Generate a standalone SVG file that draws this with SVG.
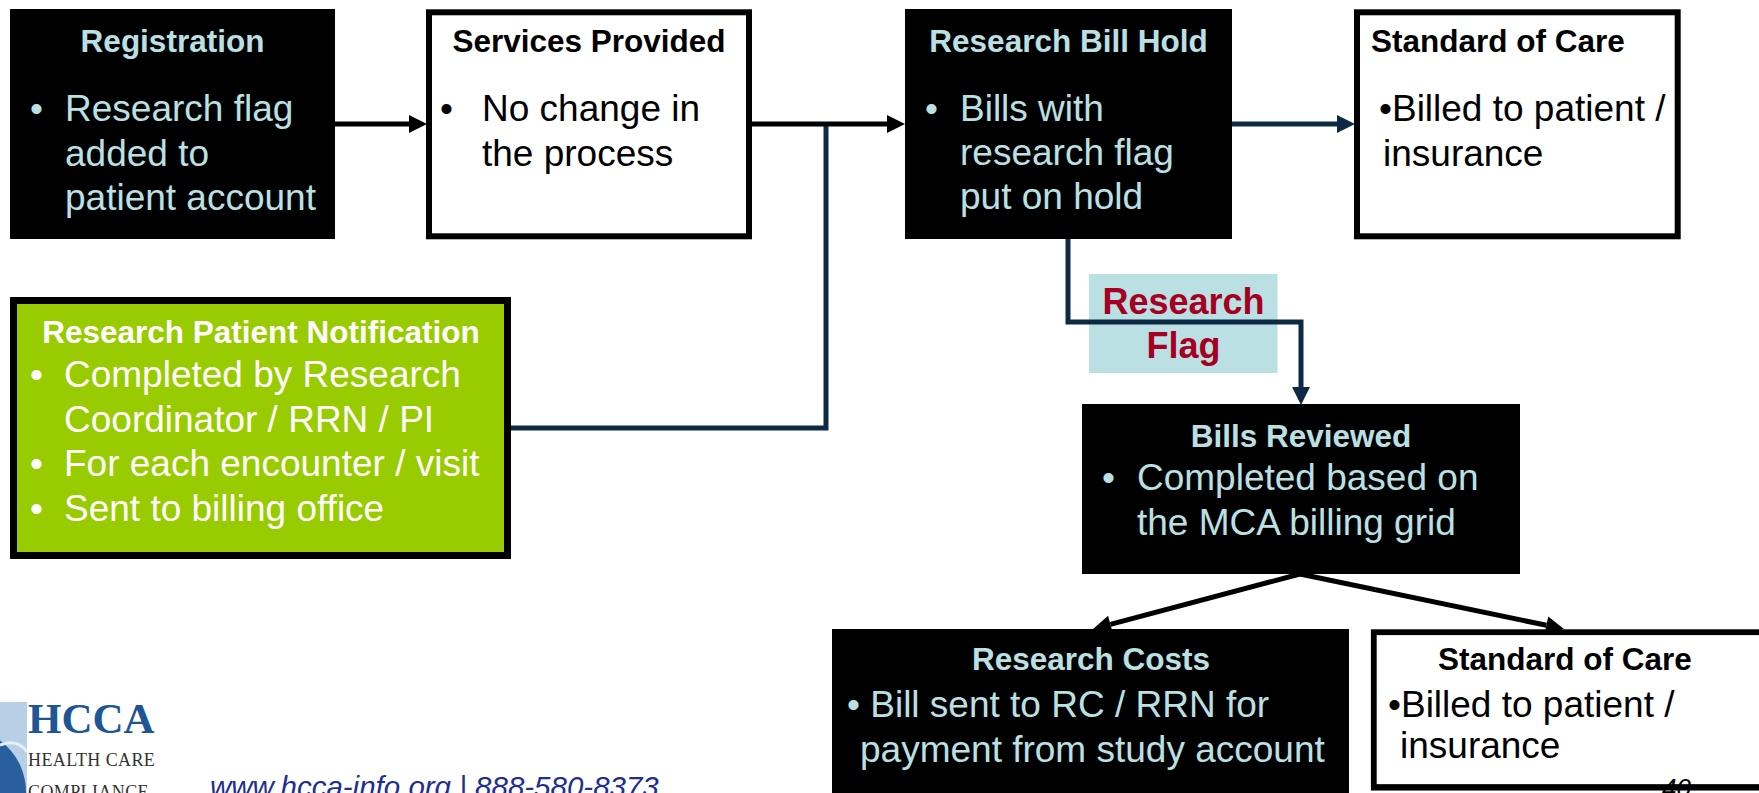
<svg xmlns="http://www.w3.org/2000/svg" width="1759" height="793" viewBox="0 0 1759 793">
<style>
text { font-family: "Liberation Sans", Arial, Helvetica, sans-serif; }
text.serif { font-family: "Liberation Serif", "Times New Roman", serif; }
.title { font-weight: bold; font-size: 31.5px; }
.body { font-size: 37px; }
.lb { fill: #bbe0e3; }
.bk { fill: #000; }
.wh { fill: #fff; }
.mid { text-anchor: middle; }
.navy { stroke: #0c2a44; stroke-width: 5; fill: none; }
.blk { stroke: #000; stroke-width: 5; fill: none; }
</style>
<defs>
<marker id="ahB" markerUnits="userSpaceOnUse" markerWidth="18" markerHeight="18" refX="0" refY="9" orient="auto" overflow="visible">
<path d="M0,0 L18,9 L0,18 z" fill="#000"/>
</marker>
<marker id="ahN" markerUnits="userSpaceOnUse" markerWidth="18" markerHeight="18" refX="0" refY="9" orient="auto" overflow="visible">
<path d="M0,0 L18,9 L0,18 z" fill="#0c2a44"/>
</marker>
</defs>
<rect width="1759" height="793" fill="#fff"/>

<g id="registration">
<rect x="10" y="9" width="325" height="230" fill="#000"/>
<text class="title lb mid" x="172.5" y="52">Registration</text>
<text class="body lb" x="30" y="121">•</text>
<text class="body lb" x="65" y="121">Research flag</text>
<text class="body lb" x="65" y="165.5">added to</text>
<text class="body lb" x="65" y="210">patient account</text>
</g>

<g id="services">
<rect x="429" y="12.3" width="320" height="224" fill="#fff" stroke="#000" stroke-width="6"/>
<text class="title bk mid" x="589" y="52">Services Provided</text>
<text class="body bk" x="440" y="121">•</text>
<text class="body bk" x="482" y="121">No change in</text>
<text class="body bk" x="482" y="166">the process</text>
</g>

<g id="bill-hold">
<rect x="905" y="9" width="327" height="230" fill="#000"/>
<text class="title lb mid" x="1068.5" y="52">Research Bill Hold</text>
<text class="body lb" x="925" y="121">•</text>
<text class="body lb" x="960" y="121">Bills with</text>
<text class="body lb" x="960" y="165">research flag</text>
<text class="body lb" x="960" y="209">put on hold</text>
</g>

<g id="standard-care-top">
<rect x="1357" y="12.3" width="320.7" height="224" fill="#fff" stroke="#000" stroke-width="6"/>
<text class="title bk" x="1371" y="52">Standard of Care</text>
<text class="body bk" x="1379" y="121">•Billed to patient /</text>
<text class="body bk" x="1383" y="166">insurance</text>
</g>

<g id="patient-notification">
<rect x="13.5" y="300.5" width="494" height="255" fill="#99cc00" stroke="#000" stroke-width="7"/>
<text class="title wh mid" x="261" y="343">Research Patient Notification</text>
<text class="body wh" x="30" y="387">•</text>
<text class="body wh" x="64" y="387">Completed by Research</text>
<text class="body wh" x="64" y="432">Coordinator / RRN / PI</text>
<text class="body wh" x="30" y="476">•</text>
<text class="body wh" x="64" y="476">For each encounter / visit</text>
<text class="body wh" x="30" y="521">•</text>
<text class="body wh" x="64" y="521">Sent to billing office</text>
</g>

<g id="bills-reviewed">
<rect x="1082" y="404" width="438" height="170" fill="#000"/>
<text class="title lb mid" x="1301" y="447">Bills Reviewed</text>
<text class="body lb" x="1102" y="490">•</text>
<text class="body lb" x="1137" y="490">Completed based on</text>
<text class="body lb" x="1137" y="535">the MCA billing grid</text>
</g>

<g id="research-costs">
<rect x="832" y="629" width="517" height="170" fill="#000"/>
<text class="title lb mid" x="1091" y="670">Research Costs</text>
<text class="body lb" x="847" y="717">• Bill sent to RC / RRN for</text>
<text class="body lb" x="860" y="762">payment from study account</text>
</g>

<g id="standard-care-bottom">
<rect x="1373.8" y="632.2" width="390" height="155" fill="#fff" stroke="#000" stroke-width="5.8"/>
<text class="title bk mid" x="1565" y="670">Standard of Care</text>
<text class="body bk" x="1388" y="717">•Billed to patient /</text>
<text class="body bk" x="1400" y="758">insurance</text>
<text x="1662" y="797" font-size="26" font-style="italic" fill="#000">40</text>
<line x1="1371" y1="787.5" x2="1759" y2="787.5" stroke="#000" stroke-width="5.8"/>
</g>

<g id="connectors">
<path class="navy" d="M511,428 H826 V124"/>
<line class="blk" x1="335" y1="124" x2="409" y2="124" marker-end="url(#ahB)"/>
<line class="blk" x1="752" y1="124" x2="887" y2="124" marker-end="url(#ahB)"/>
<line class="navy" x1="1232" y1="124" x2="1337" y2="124" marker-end="url(#ahN)"/>
<g id="research-flag-label">
<rect x="1089" y="274" width="188.5" height="99" fill="#bbe0e3"/>
<text class="mid" x="1183.5" y="314" font-size="36" font-weight="bold" fill="#a50021">Research</text>
<text class="mid" x="1183.5" y="358" font-size="36" font-weight="bold" fill="#a50021">Flag</text>
</g>
<path class="navy" d="M1068,239 V322 H1301 V387" marker-end="url(#ahN)"/>
<line class="blk" x1="1300" y1="574" x2="1110.4" y2="624.4" marker-end="url(#ahB)"/>
<line class="blk" x1="1300" y1="574" x2="1546.4" y2="625.3" marker-end="url(#ahB)"/>
</g>

<g id="footer">
<rect x="0" y="702" width="27" height="91" fill="#b7d0e6"/>
<circle cx="-38" cy="792" r="64" fill="#2a5f9e"/>
<path d="M0,745 Q18,738 27,752" stroke="#e3eef8" stroke-width="3" fill="none"/>
<text class="serif" x="28" y="733" font-size="43" font-weight="bold" fill="#1d5595">HCCA</text>
<text class="serif" x="28" y="766" font-size="18" letter-spacing="0.4" fill="#333">HEALTH CARE</text>
<text class="serif" x="28" y="798" font-size="18" letter-spacing="0.4" fill="#333">COMPLIANCE</text>
<text x="210" y="797" font-size="29.5" font-style="italic" fill="#1f2f8f">www.hcca-info.org | 888-580-8373</text>
</g>
</svg>
